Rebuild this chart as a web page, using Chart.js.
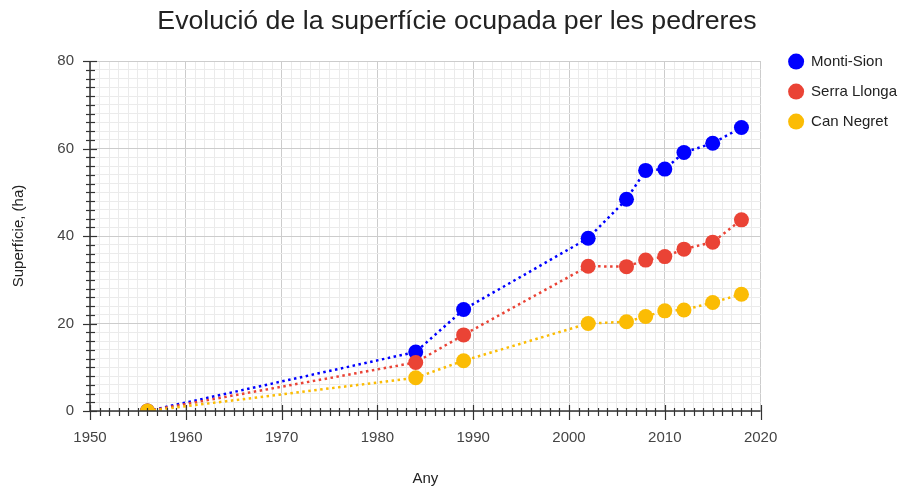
<!DOCTYPE html>
<html>
<head>
<meta charset="utf-8">
<script src="https://cdn.jsdelivr.net/npm/chart.js@4.4.0/dist/chart.umd.min.js"></script>
<style>
  html, body { margin: 0; padding: 0; background: #fff; }
  #wrap { width: 909px; height: 488px; }
</style>
</head>
<body>
<div id="wrap"><canvas id="graphPedreres"></canvas></div>
<script>
// Dades
var years = [1956, 1984, 1989, 2002, 2006, 2008, 2010, 2012, 2015, 2018];
var montiSion = [0, 13.5, 23.2, 39.5, 48.4, 55.0, 55.3, 59.1, 61.2, 64.8];
var serraLlonga = [0, 11.1, 17.4, 33.1, 33.0, 34.5, 35.3, 37.0, 38.6, 43.7];
var canNegret = [0, 7.6, 11.5, 20.0, 20.4, 21.6, 22.9, 23.1, 24.8, 26.7];

var fontFamily = 'Arial, "Liberation Sans", sans-serif';

function toPoints(values) {
  return years.map(function (y, i) { return { x: y, y: values[i] }; });
}

function serie(label, values, color, order) {
  return {
    label: label,
    data: toPoints(values),
    borderColor: color,
    backgroundColor: color,
    pointBackgroundColor: color,
    pointBorderWidth: 0,
    pointRadius: 7.5,
    pointHoverRadius: 7.5,
    borderWidth: 2.5,
    borderDash: [2.5, 3.5],
    fill: false,
    order: order
  };
}

// axis lines + tick marks crossing the axes
const axisTicks = {
  id: 'axisTicks',
  afterLayout(chart) {
    // nudge legend up next to the plot top, and the title a bit right
    const lg = chart.legend;
    lg.top -= 22; lg.bottom -= 22;
    lg.left += 13; lg.right += 13;
    const tb = chart.titleBlock;
    tb.left += 10; tb.right += 10;
  },
  afterDatasetsDraw(chart) {
    const c = chart.ctx;
    const x = chart.scales.x, y = chart.scales.y;
    const area = chart.chartArea;
    c.save();
    c.strokeStyle = '#333';
    c.lineWidth = 1.5;
    c.beginPath();
    c.moveTo(area.left, area.top);
    c.lineTo(area.left, area.bottom);
    c.lineTo(area.right, area.bottom);
    c.stroke();
    c.lineWidth = 1.2;
    y.ticks.forEach(function (t) {
      const py = Math.round(y.getPixelForValue(t.value)) + 0.5;
      const major = t.value % 20 === 0;
      c.beginPath();
      c.moveTo(area.left - (major ? 7 : 4), py);
      c.lineTo(area.left + (major ? 7 : 5), py);
      c.stroke();
    });
    x.ticks.forEach(function (t) {
      const px = Math.round(x.getPixelForValue(t.value)) + 0.5;
      const major = t.value % 10 === 0;
      c.beginPath();
      c.moveTo(px, area.bottom - (major ? 6 : 3));
      c.lineTo(px, area.bottom + (major ? 9 : 5));
      c.stroke();
    });
    c.restore();
  }
};

const ctx = document.getElementById('graphPedreres');

new Chart(ctx, {
  type: 'line',
  data: {
    datasets: [
      serie('Monti-Sion', montiSion, '#0000ff', 2),
      serie('Serra Llonga', serraLlonga, '#ea4335', 1),
      serie('Can Negret', canNegret, '#fbbc04', 0)
    ]
  },
  options: {
    responsive: true,
    maintainAspectRatio: false,
    animation: false,
    layout: { padding: { left: 0, right: 15, top: 0, bottom: 0 } },
    plugins: {
      title: {
        display: true,
        text: 'Evolució de la superfície ocupada per les pedreres',
        color: '#222',
        font: { family: fontFamily, size: 26.7, weight: 'normal' },
        padding: { top: 6, bottom: 23 }
      },
      legend: {
        position: 'right',
        align: 'start',
        fullSize: false,
        labels: {
          usePointStyle: true,
          pointStyle: 'circle',
          boxWidth: 15,
          boxHeight: 11.3,
          padding: 15,
          color: '#222',
          font: { family: fontFamily, size: 15 },
          sort: function (a, b) { return a.datasetIndex - b.datasetIndex; }
        }
      },
      tooltip: { enabled: false }
    },
    scales: {
      x: {
        type: 'linear',
        min: 1950,
        max: 2020,
        border: { display: false },
        grid: {
          drawTicks: false,
          color: function (c) { return c.tick && c.tick.value % 10 === 0 ? '#cccccc' : '#ebebeb'; }
        },
        ticks: {
          stepSize: 1,
          autoSkip: false,
          maxRotation: 0,
          padding: 18,
          color: '#444',
          font: { family: fontFamily, size: 15 },
          callback: function (v) { return v % 10 === 0 ? String(v) : ''; }
        },
        title: {
          display: true,
          text: 'Any',
          color: '#222',
          font: { family: fontFamily, size: 15 },
          padding: { top: 0, bottom: 0 }
        },
        afterFit: function (s) { s.height = 77; }
      },
      y: {
        min: 0,
        max: 80,
        border: { display: false },
        grid: {
          drawTicks: false,
          color: function (c) { return c.tick && c.tick.value % 20 === 0 ? '#cccccc' : '#ebebeb'; }
        },
        ticks: {
          stepSize: 2,
          autoSkip: false,
          padding: 16,
          color: '#444',
          font: { family: fontFamily, size: 15 },
          callback: function (v) { return v % 20 === 0 ? String(v) : ''; }
        },
        title: {
          display: true,
          text: 'Superfície, (ha)',
          color: '#222',
          font: { family: fontFamily, size: 15 },
          padding: { top: 10, bottom: 0 }
        },
        afterFit: function (s) { s.width = 90; }
      }
    }
  },
  plugins: [axisTicks]
});
</script>
</body>
</html>
